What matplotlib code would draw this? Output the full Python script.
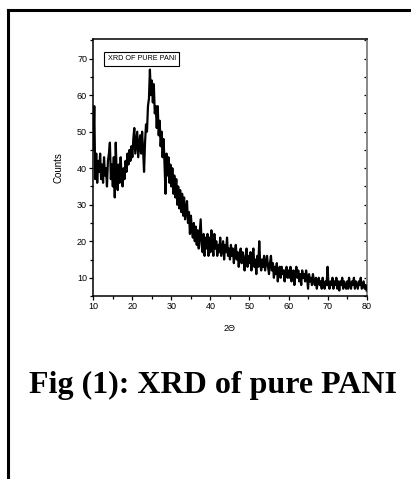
import numpy as np
import matplotlib
matplotlib.use("Agg")
import matplotlib.pyplot as plt
from matplotlib.lines import Line2D
from matplotlib.ticker import MultipleLocator

plt.rcParams['font.family'] = ['Liberation Sans', 'DejaVu Sans']

# 2-theta grid, 0.25 deg steps from 10 to 80
two_theta_start = 10.0
two_theta_step = 0.25

# counts, one row per 5 degrees
counts_10_15 = [45, 57, 37, 44, 36, 42, 39, 44, 37, 41, 36, 43, 38, 40, 35, 42, 44, 47, 37, 41]
counts_15_20 = [35, 43, 32, 47, 38, 34, 41, 36, 43, 38, 35, 40, 37, 42, 39, 44, 41, 45, 42, 46]
counts_20_25 = [43, 48, 51, 44, 47, 50, 43, 46, 49, 44, 50, 45, 39, 47, 52, 50, 57, 59, 67, 60]
counts_25_30 = [64, 58, 63, 55, 57, 51, 57, 49, 53, 46, 50, 43, 48, 41, 33, 44, 38, 43, 36, 41]
counts_30_35 = [35, 40, 33, 38, 32, 37, 30, 35, 29, 34, 28, 33, 27, 32, 26, 29, 31, 25, 28, 22]
counts_35_40 = [27, 23, 21, 25, 20, 24, 19, 23, 18, 22, 26, 19, 17, 22, 16, 21, 18, 22, 16, 21]
counts_40_45 = [17, 23, 19, 16, 22, 18, 20, 16, 19, 17, 21, 16, 18, 20, 15, 19, 17, 21, 16, 18]
counts_45_50 = [15, 19, 16, 18, 14, 17, 19, 15, 17, 13, 16, 18, 14, 17, 15, 12, 16, 18, 13, 16]
counts_50_55 = [14, 17, 12, 16, 18, 13, 15, 11, 16, 13, 20, 14, 12, 15, 13, 16, 12, 14, 16, 13]
counts_55_60 = [11, 14, 16, 12, 14, 10, 13, 11, 14, 9, 12, 13, 10, 13, 11, 12, 9, 12, 13, 10]
counts_60_65 = [12, 10, 13, 9, 11, 12, 8, 11, 13, 10, 12, 9, 11, 8, 12, 10, 11, 9, 12, 10]
counts_65_70 = [7, 11, 9, 10, 8, 11, 9, 8, 10, 7, 9, 10, 8, 9, 7, 10, 8, 7, 9, 8]
counts_70_75 = [13, 8, 7, 9, 8, 10, 7, 9, 8, 10, 7, 9, 6.5, 9, 8, 10, 7, 9, 8, 7]
counts_75_80 = [9, 7, 10, 8, 7, 9, 8, 10, 7, 9, 8, 7, 9, 8, 10, 7, 8, 9, 7, 8, 6.5]

counts = np.array(counts_10_15 + counts_15_20 + counts_20_25 + counts_25_30 +
                  counts_30_35 + counts_35_40 + counts_40_45 + counts_45_50 +
                  counts_50_55 + counts_55_60 + counts_60_65 + counts_65_70 +
                  counts_70_75 + counts_75_80)
two_theta = two_theta_start + two_theta_step * np.arange(len(counts))

legend_text = "XRD OF PURE PANI"
caption = "Fig (1): XRD of pure PANI"

fig = plt.figure(figsize=(4.11, 4.79), dpi=100)
ax = fig.add_axes([0.227, 0.382, 0.665, 0.536])

ax.plot(two_theta, counts, color="black", lw=1.6)

ax.set_xlim(10, 80)
ax.set_ylim(5, 75.3)
ax.xaxis.set_major_locator(MultipleLocator(10))
ax.xaxis.set_minor_locator(MultipleLocator(5))
ax.yaxis.set_major_locator(MultipleLocator(10))
ax.yaxis.set_minor_locator(MultipleLocator(5))
ax.set_yticks([10, 20, 30, 40, 50, 60, 70])

ax.tick_params(which="both", direction="out", length=3, width=0.9,
               labelsize=6.5, pad=1.5, top=False, right=False)
ax.tick_params(which="minor", length=2.5)

# right-side inward ticks like Origin
ax2 = ax.secondary_yaxis("right")
ax2.yaxis.set_major_locator(MultipleLocator(5))
ax2.tick_params(direction="in", length=2, width=0.9, labelright=False)
ax2.spines["right"].set_color("#888888")
ax2.spines["right"].set_linewidth(1.4)
ax.spines["right"].set_visible(False)

for s in ["left", "bottom", "top"]:
    ax.spines[s].set_linewidth(1.1)
    ax.spines[s].set_color("black")

ax.set_xlabel("2Θ", fontsize=6.5, labelpad=9)
ax.set_ylabel("Counts", fontsize=7, labelpad=10)

ax.text(0.177, 0.924, legend_text, transform=ax.transAxes, fontsize=5.2,
        ha="center", va="center",
        bbox=dict(boxstyle="square,pad=0.45", fc="white", ec="black", lw=0.8))

fig.text(0.518, 0.18, caption, ha="center", va="baseline",
         fontsize=23, fontweight="bold", family=["Liberation Serif", "DejaVu Serif"])

# page border: left and top edges only
y_top = (479 - 10) / 479
x_left = 7.5 / 411
fig.add_artist(Line2D([x_left, x_left], [0, y_top], transform=fig.transFigure,
                      color="black", lw=2.2))
fig.add_artist(Line2D([x_left, 1], [y_top, y_top], transform=fig.transFigure,
                      color="black", lw=2.2))

fig.savefig("out.png", dpi=100)
